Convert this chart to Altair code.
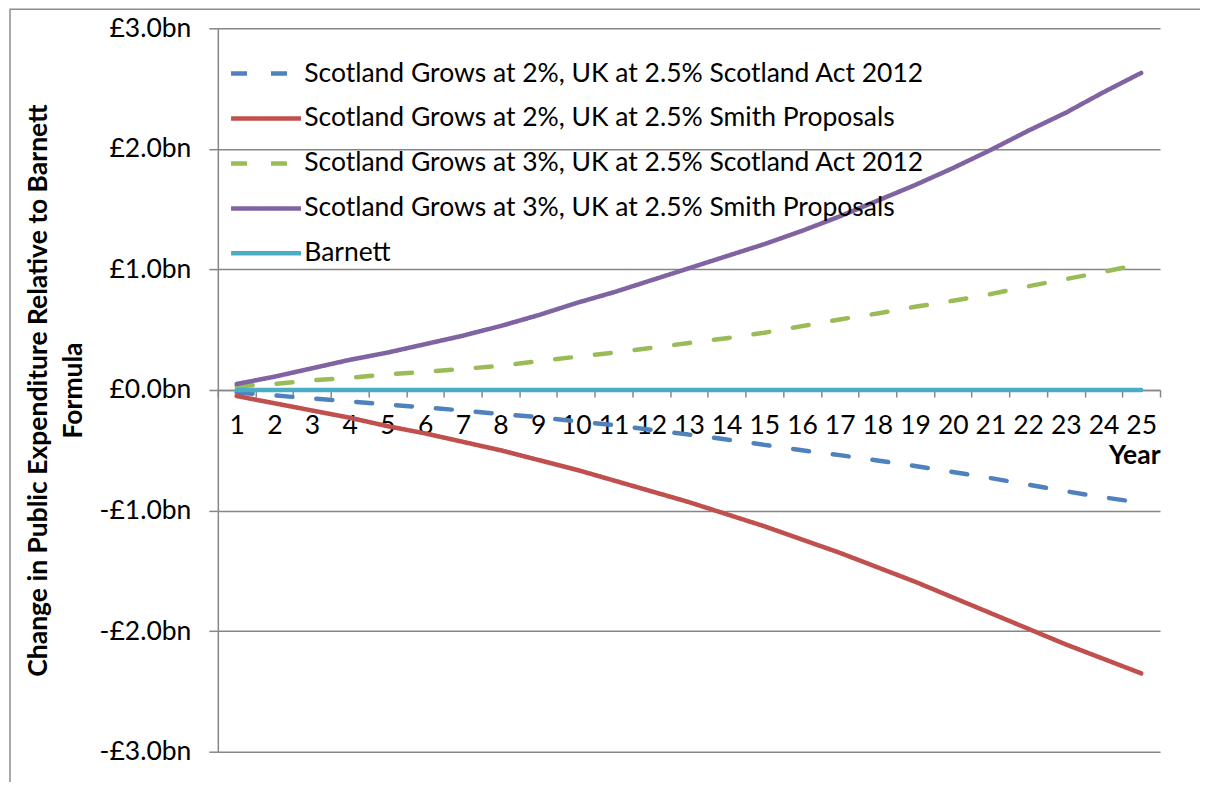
import altair as alt
import pandas as pd

years = list(range(1, 26))

series_names = [
    "Scotland Grows at 2%, UK at 2.5% Scotland Act 2012",
    "Scotland Grows at 2%, UK at 2.5% Smith Proposals",
    "Scotland Grows at 3%, UK at 2.5% Scotland Act 2012",
    "Scotland Grows at 3%, UK at 2.5% Smith Proposals",
    "Barnett",
]

grow2_act2012 = [-0.02, -0.045, -0.07, -0.095, -0.12, -0.145, -0.17, -0.20, -0.225, -0.26,
                 -0.29, -0.33, -0.37, -0.41, -0.455, -0.50, -0.54, -0.585, -0.63, -0.68,
                 -0.73, -0.785, -0.84, -0.89, -0.935]
grow2_smith = [-0.05, -0.11, -0.17, -0.23, -0.30, -0.36, -0.43, -0.50, -0.58, -0.66,
               -0.75, -0.84, -0.93, -1.03, -1.13, -1.24, -1.35, -1.47, -1.59, -1.72,
               -1.85, -1.98, -2.11, -2.23, -2.35]
grow3_act2012 = [0.03, 0.05, 0.08, 0.10, 0.13, 0.15, 0.175, 0.20, 0.24, 0.275,
                 0.31, 0.35, 0.39, 0.43, 0.475, 0.53, 0.585, 0.635, 0.69, 0.74,
                 0.795, 0.86, 0.92, 0.98, 1.045]
grow3_smith = [0.05, 0.11, 0.18, 0.25, 0.31, 0.38, 0.45, 0.53, 0.62, 0.72,
               0.81, 0.91, 1.01, 1.11, 1.21, 1.32, 1.44, 1.57, 1.70, 1.84,
               1.99, 2.15, 2.30, 2.47, 2.63]
barnett = [0.0] * 25

series_values = [grow2_act2012, grow2_smith, grow3_act2012, grow3_smith, barnett]
colors = ["#4F81BD", "#C0504D", "#9BBB59", "#8064A2", "#4BACC6"]
dashes = [[16, 24], [1, 0], [16, 24], [1, 0], [1, 0]]
y_ticks = [-3, -2, -1, 0, 1, 2, 3]

rows = []
for name, vals in zip(series_names, series_values):
    for yr, v in zip(years, vals):
        rows.append({"Series": name, "Year": yr, "Value": v})
df = pd.DataFrame(rows)

FONT = "Lato"
FS = 26.5
GRID = "#868686"

legend = alt.Legend(
    title=None,
    orient="none",
    legendX=35,
    legendY=32,
    symbolType="M-3.5,0L3.5,0",
    symbolSize=400,
    symbolStrokeWidth=4.5,
    labelFontSize=FS,
    labelFont=FONT,
    labelColor="black",
    labelOffset=25,
    rowPadding=18,
    padding=0,
    labelLimit=900,
)

lines = alt.Chart(df).mark_line(
    strokeWidth=4.5, strokeCap="round", strokeJoin="round"
).encode(
    x=alt.X(
        "Year:O",
        bandPosition=0.5,
        scale=alt.Scale(type="band", paddingInner=0, paddingOuter=0),
        axis=alt.Axis(
            title="Year",
            titleFont=FONT,
            titleFontSize=FS,
            titleFontWeight="bold",
            titleColor="black",
            titleAnchor="end",
            titlePadding=3,
            labelAngle=0,
            labelFont=FONT,
            labelFontSize=FS,
            labelColor="black",
            labelPadding=16,
            tickBand="extent",
            tickSize=7,
            tickColor=GRID,
            tickWidth=1.5,
            domainColor=GRID,
            domainWidth=1.5,
            offset=-362,
            grid=False,
        ),
    ),
    y=alt.Y(
        "Value:Q",
        scale=alt.Scale(domain=[-3, 3], nice=False, zero=False),
        axis=alt.Axis(
            title=["Change in Public Expenditure Relative to Barnett", "Formula"],
            titleFont=FONT,
            titleFontSize=FS,
            titleFontWeight="bold",
            titleColor="black",
            titleLineHeight=35,
            titlePadding=12,
            values=y_ticks,
            labelExpr="(datum.value < 0 ? '-' : '') + '£' + format(abs(datum.value), '.1f') + 'bn'",
            labelFont=FONT,
            labelFontSize=FS,
            labelColor="black",
            labelPadding=18,
            tickSize=9,
            tickColor=GRID,
            tickWidth=1.5,
            domainColor=GRID,
            domainWidth=1.5,
            grid=True,
            gridColor=GRID,
            gridWidth=1.5,
        ),
    ),
    color=alt.Color("Series:N", scale=alt.Scale(domain=series_names, range=colors), legend=legend),
    strokeDash=alt.StrokeDash("Series:N", scale=alt.Scale(domain=series_names, range=dashes), legend=legend),
)

frame = alt.Chart(pd.DataFrame({"f": [0]})).mark_rect(
    fillOpacity=0, stroke="#8C8C8C", strokeWidth=1.5
).encode(
    x=alt.value(-208), x2=alt.value(1200), y=alt.value(-19), y2=alt.value(900)
)

chart = alt.layer(frame, lines).properties(
    width=943,
    height=724,
    autosize=alt.AutoSizeParams(type="none"),
    padding={"left": 210, "top": 20, "right": 40, "bottom": 30},
).configure_view(stroke=None)

chart.save("out.html", embed_options={"renderer": "svg", "actions": False})
